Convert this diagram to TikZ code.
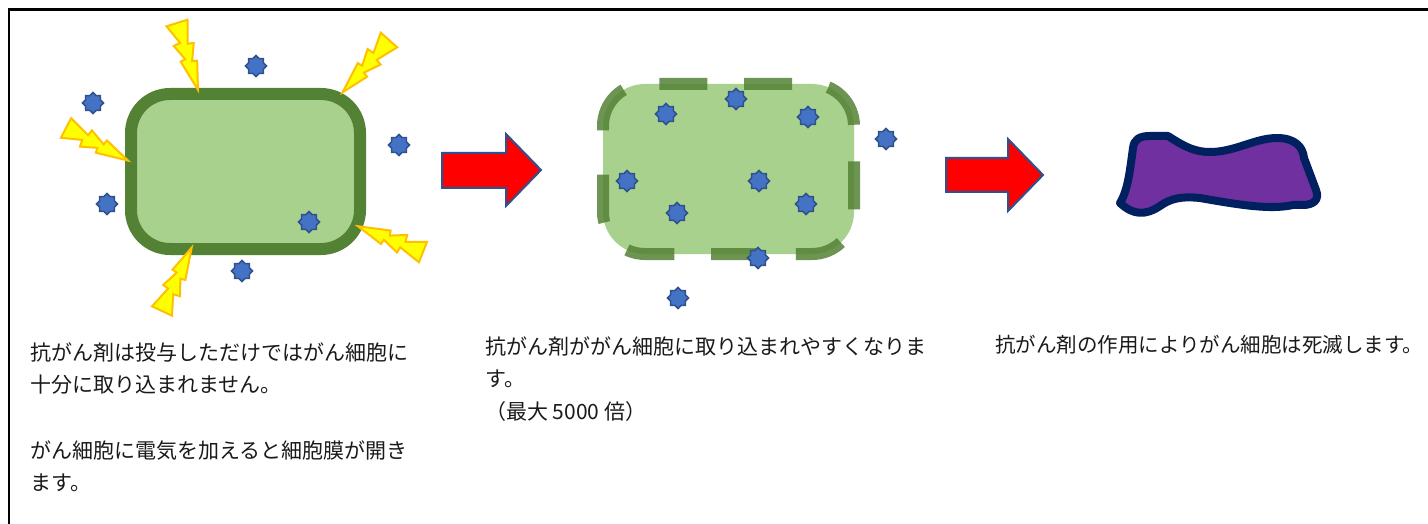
\documentclass[tikz,border=0pt]{standalone}
\usepackage{fontspec}
\newfontfamily\jpfont{Noto Sans CJK JP}
\usetikzlibrary{shapes.geometric}
\definecolor{celllight}{HTML}{A9D18E}
\definecolor{cellgreen}{HTML}{548235}
\definecolor{drugblue}{HTML}{4472C4}
\definecolor{drugedge}{HTML}{2F528F}
\definecolor{boltfill}{HTML}{FFFF00}
\definecolor{boltedge}{HTML}{FFC000}
\definecolor{arrowedge}{HTML}{2F528F}
\definecolor{deadfill}{HTML}{7030A0}
\definecolor{deadedge}{HTML}{002060}
\definecolor{txt}{HTML}{1A1A1A}

\tikzset{
  drug/.style={star, star points=8, star point ratio=1.3, minimum size=21pt,
    inner sep=0pt, fill=drugblue, draw=drugedge, line width=1.5pt},
  caption/.style={anchor=base west, inner sep=0pt, text=txt,
    font=\jpfont\fontsize{21}{32}\selectfont},
  boltshape/.style={fill=boltfill, draw=boltedge, line width=2pt, line join=miter},
  bolt/.pic={
    \path[boltshape] (-11,0) -- (11,0) -- (4,23) -- (10,24) -- (3,41) -- (8,42)
      -- (0,70) -- (-8,38) -- (-3,37) -- (-10,21) -- (-3,20) -- cycle;
  },
  blockarrow/.style={fill=red, draw=arrowedge, line width=2pt, line join=miter},
}

\begin{document}
\begin{tikzpicture}[x=1pt,y=-1pt]
\useasboundingbox (0,0) rectangle (1428,524);
\fill[white] (0,0) rectangle (1428,524);

% outer frame
\draw[line width=2.7pt, line join=miter] (9,600) -- (9,9.5) -- (1500,9.5);

% ---- stage 1: intact cell under electric pulses
\draw[line width=12pt, draw=cellgreen, fill=celllight, rounded corners=39pt]
  (131,94) rectangle (360,249);

\pic[rotate=17.4] at (177,23) {bolt};
\pic[rotate=-41.6] at (389,40) {bolt};
\pic[rotate=62.3] at (66,128) {bolt};
\pic[rotate=-111.6] at (423,252) {bolt};
\pic[rotate=154.9] at (162,311) {bolt};

\node[drug] (d1) at (256,66) {};
\node[drug] (d2) at (93,103) {};
\node[drug] (d3) at (399,145) {};
\node[drug] (d4) at (107,204) {};
\node[drug] (d5) at (309,222) {};
\node[drug] (d6) at (242,271) {};

% ---- arrow 1
\path[blockarrow] (442,153) -- (506,153) -- (506,134) -- (541,170) -- (506,206)
  -- (506,188) -- (442,188) -- cycle;

% ---- stage 2: opened membrane
\fill[celllight] [rounded corners=42pt] (603,84) rectangle (854,254);
\draw[line width=12pt, draw=cellgreen, draw opacity=0.85,
      dash pattern=on 48pt off 36.7pt, dash phase=75.1pt, rounded corners=42pt]
  (603,140) -- (603,84) -- (854,84) -- (854,254) -- (603,254) -- (603,140);

\node[drug] (d7) at (666,114) {};
\node[drug] (d8) at (736,99) {};
\node[drug] (d9) at (808,117) {};
\node[drug] (d10) at (886,139) {};
\node[drug] (d11) at (627,181) {};
\node[drug] (d12) at (759,181) {};
\node[drug] (d13) at (677,213) {};
\node[drug] (d14) at (806,204) {};
\node[drug] (d15) at (758,258) {};
\node[drug] (d16) at (678,298) {};

% ---- arrow 2
\path[blockarrow] (946,158) -- (1008,158) -- (1008,139) -- (1043,175) -- (1008,211)
  -- (1008,192) -- (946,192) -- cycle;

% ---- stage 3: dead cell
\draw[line width=8pt, draw=deadedge, fill=deadfill, line join=round]
  (1120,203) .. controls (1128,190) and (1130,170) .. (1133,148)
  .. controls (1134,139) and (1140,136) .. (1150,136)
  -- (1168,136)
  .. controls (1185,147) and (1195,152) .. (1210,152)
  .. controls (1235,152) and (1255,138) .. (1277,138)
  .. controls (1295,138) and (1303,147) .. (1304,158)
  -- (1316,190)
  .. controls (1320,200) and (1313,205) .. (1303,205)
  -- (1293,205)
  .. controls (1270,210) and (1240,205) .. (1200,198)
  .. controls (1180,196) and (1170,199) .. (1160,206)
  .. controls (1145,216) and (1133,215) .. cycle;

% ---- captions
\node[caption] (c1a) at (30,360) {抗がん剤は投与しただけではがん細胞に};
\node[caption] (c1b) at (30,392.7) {十分に取り込まれません。};
\node[caption] (c1c) at (30,458) {がん細胞に電気を加えると細胞膜が開き};
\node[caption] (c1d) at (30,490.7) {ます。};

\node[caption] (c2a) at (485,354) {抗がん剤ががん細胞に取り込まれやすくなりま};
\node[caption] (c2b) at (485,386.5) {す。};
\node[caption] (c2c) at (485,419) {（最大 5000 倍）};

\node[caption, font=\jpfont\fontsize{20.5}{32}\selectfont] (c3a) at (995,352)
  {抗がん剤の作用によりがん細胞は死滅します。};
\end{tikzpicture}
\end{document}
